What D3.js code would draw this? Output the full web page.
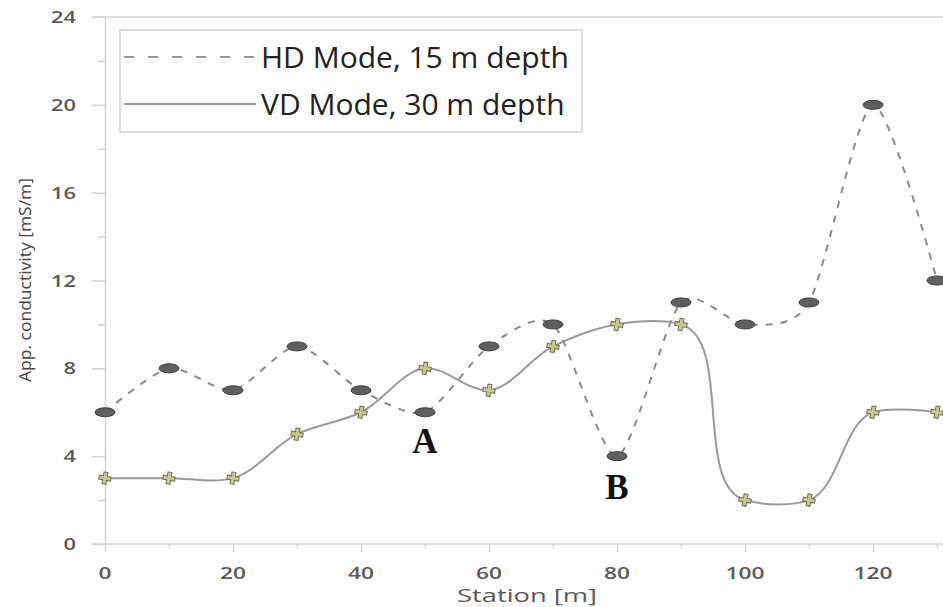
<!DOCTYPE html>
<html>
<head>
<meta charset="utf-8">
<script src="https://cdn.jsdelivr.net/npm/d3@7"></script>
<style>
  html, body { margin: 0; padding: 0; background: #fff; }
  svg { display: block; }
</style>
</head>
<body>
<svg id="chart" width="943" height="607"></svg>
<script>
const stations = [0, 10, 20, 30, 40, 50, 60, 70, 80, 90, 100, 110, 120, 130];
const hdValues = [6, 8, 7, 9, 7, 6, 9, 10, 4, 11, 10, 11, 20, 12];
const vdValues = [3, 3, 3, 5, 6, 8, 7, 9, 10, 10, 2, 2, 6, 6];
const yTicks = [0, 4, 8, 12, 16, 20, 24];
const xTicks = [0, 20, 40, 60, 80, 100, 120];
const seriesNames = ["HD Mode, 15 m depth", "VD Mode, 30 m depth"];
const annotations = [{label: "A", x: 50, y: 6}, {label: "B", x: 80, y: 4}];

const svg = d3.select("#chart");
const x = d3.scaleLinear().domain([0, 130]).range([105, 937]);
const y = d3.scaleLinear().domain([0, 24]).range([544, 17]);
const axisColor = "#d4d4d4";
const labelColor = "#595959";
const font = "Open Sans, DejaVu Sans, sans-serif";

// Top border line at 24
svg.append("line").attr("x1", 92).attr("x2", 943)
  .attr("y1", y(24)).attr("y2", y(24))
  .attr("stroke", axisColor).attr("stroke-width", 1.5);

// Y axis
const yAxis = d3.axisLeft(y).tickValues(d3.range(0, 25, 2)).tickSize(0).tickFormat("");
const yg = svg.append("g").attr("transform", `translate(${x(0)},0)`).call(yAxis);
yg.select(".domain").attr("stroke", axisColor).attr("stroke-width", 1.5);
yg.selectAll(".tick line").remove();
yg.selectAll(".tick").append("line")
  .attr("x1", d => d % 4 === 0 ? -13 : -7).attr("x2", 0)
  .attr("stroke", axisColor).attr("stroke-width", 1.5);
svg.append("g").selectAll("text").data(yTicks).join("text")
  .attr("x", 76).attr("y", d => y(d)).attr("dy", "0.36em")
  .attr("text-anchor", "end")
  .attr("font-family", font)
  .attr("font-weight", 600).attr("font-size", 17).attr("fill", labelColor)
  .attr("textLength", d => String(d).length * 12.5).attr("lengthAdjust", "spacingAndGlyphs")
  .text(d => d);

// X axis
const xAxis = d3.axisBottom(x).tickValues(d3.range(0, 131, 10)).tickSize(0).tickFormat("");
const xg = svg.append("g").attr("transform", `translate(0,${y(0)})`).call(xAxis);
xg.select(".domain").remove();
xg.append("line").attr("x1", 92).attr("x2", 943).attr("stroke", axisColor).attr("stroke-width", 1.5);
xg.selectAll(".tick line").remove();
xg.selectAll(".tick").append("line")
  .attr("y1", 0).attr("y2", d => d % 20 === 0 ? 8 : 4)
  .attr("stroke", axisColor).attr("stroke-width", 1.5);
svg.append("g").selectAll("text").data(xTicks).join("text")
  .attr("x", d => x(d)).attr("y", 579)
  .attr("text-anchor", "middle")
  .attr("font-family", font)
  .attr("font-weight", 600).attr("font-size", 17).attr("fill", labelColor)
  .attr("textLength", d => String(d).length * 13).attr("lengthAdjust", "spacingAndGlyphs")
  .text(d => d);

// Axis titles
svg.append("text").attr("x", 527).attr("y", 602).attr("text-anchor", "middle")
  .attr("font-family", font).attr("font-size", 19)
  .attr("textLength", 140).attr("lengthAdjust", "spacingAndGlyphs")
  .attr("fill", labelColor).text("Station [m]");
svg.append("text").attr("transform", "translate(31,280) rotate(-90)").attr("text-anchor", "middle")
  .attr("font-family", font).attr("font-size", 17)
  .attr("textLength", 204).attr("lengthAdjust", "spacingAndGlyphs")
  .attr("fill", "#444").text("App. conductivity [mS/m]");

// Lines
const hdData = stations.map((s, i) => ({x: s, y: hdValues[i]}));
const vdData = stations.map((s, i) => ({x: s, y: vdValues[i]}));
const hdLine = d3.line().x(d => x(d.x)).y(d => y(d.y)).curve(d3.curveCardinal.tension(0.25));
const vdLine = d3.line().x(d => x(d.x)).y(d => y(d.y)).curve(d3.curveCatmullRom.alpha(1));

svg.append("path").datum(vdData).attr("d", vdLine)
  .attr("fill", "none").attr("stroke", "#9a9a9a").attr("stroke-width", 2);
svg.append("path").datum(hdData).attr("d", hdLine)
  .attr("fill", "none").attr("stroke", "#8a8a8a").attr("stroke-width", 2)
  .attr("stroke-dasharray", "7,8");

// Markers
svg.append("g").selectAll("ellipse").data(hdData).join("ellipse")
  .attr("cx", d => x(d.x)).attr("cy", d => y(d.y))
  .attr("rx", 10).attr("ry", 4.5)
  .attr("fill", "#5f5f5f").attr("stroke", "#3f3f3f").attr("stroke-width", 1);

const cross = "M-2,-6 L2,-6 L2,-2 L6,-2 L6,2 L2,2 L2,6 L-2,6 L-2,2 L-6,2 L-6,-2 L-2,-2 Z";
svg.append("g").selectAll("path").data(vdData).join("path")
  .attr("transform", d => `translate(${x(d.x)},${y(d.y)}) rotate(10)`)
  .attr("d", cross)
  .attr("fill", "#c9c98e").attr("stroke", "#6e6e5a").attr("stroke-width", 1);

// Annotations
svg.append("g").selectAll("text").data(annotations).join("text")
  .attr("x", d => x(d.x)).attr("y", d => d.label === "A" ? 453 : 499)
  .attr("text-anchor", "middle")
  .attr("font-family", "Liberation Serif, Times New Roman, serif")
  .attr("font-weight", "bold").attr("font-size", 35).attr("fill", "#111")
  .text(d => d.label);

// Legend
const lg = svg.append("g");
lg.append("rect").attr("x", 120).attr("y", 30).attr("width", 462).attr("height", 102)
  .attr("fill", "#fff").attr("stroke", "#d4d4d4").attr("stroke-width", 1.5);
const legendRows = [{name: seriesNames[0], dash: "10,14", yy: 57}, {name: seriesNames[1], dash: null, yy: 104}];
legendRows.forEach(r => {
  lg.append("line").attr("x1", 124).attr("x2", 256).attr("y1", r.yy).attr("y2", r.yy)
    .attr("stroke", "#9a9a9a").attr("stroke-width", 2)
    .attr("stroke-dasharray", r.dash);
  lg.append("text").attr("x", 261).attr("y", r.yy).attr("dy", "0.36em")
    .attr("font-family", font).attr("font-size", 30)
    .attr("fill", "#222").text(r.name);
});
</script>
</body>
</html>
